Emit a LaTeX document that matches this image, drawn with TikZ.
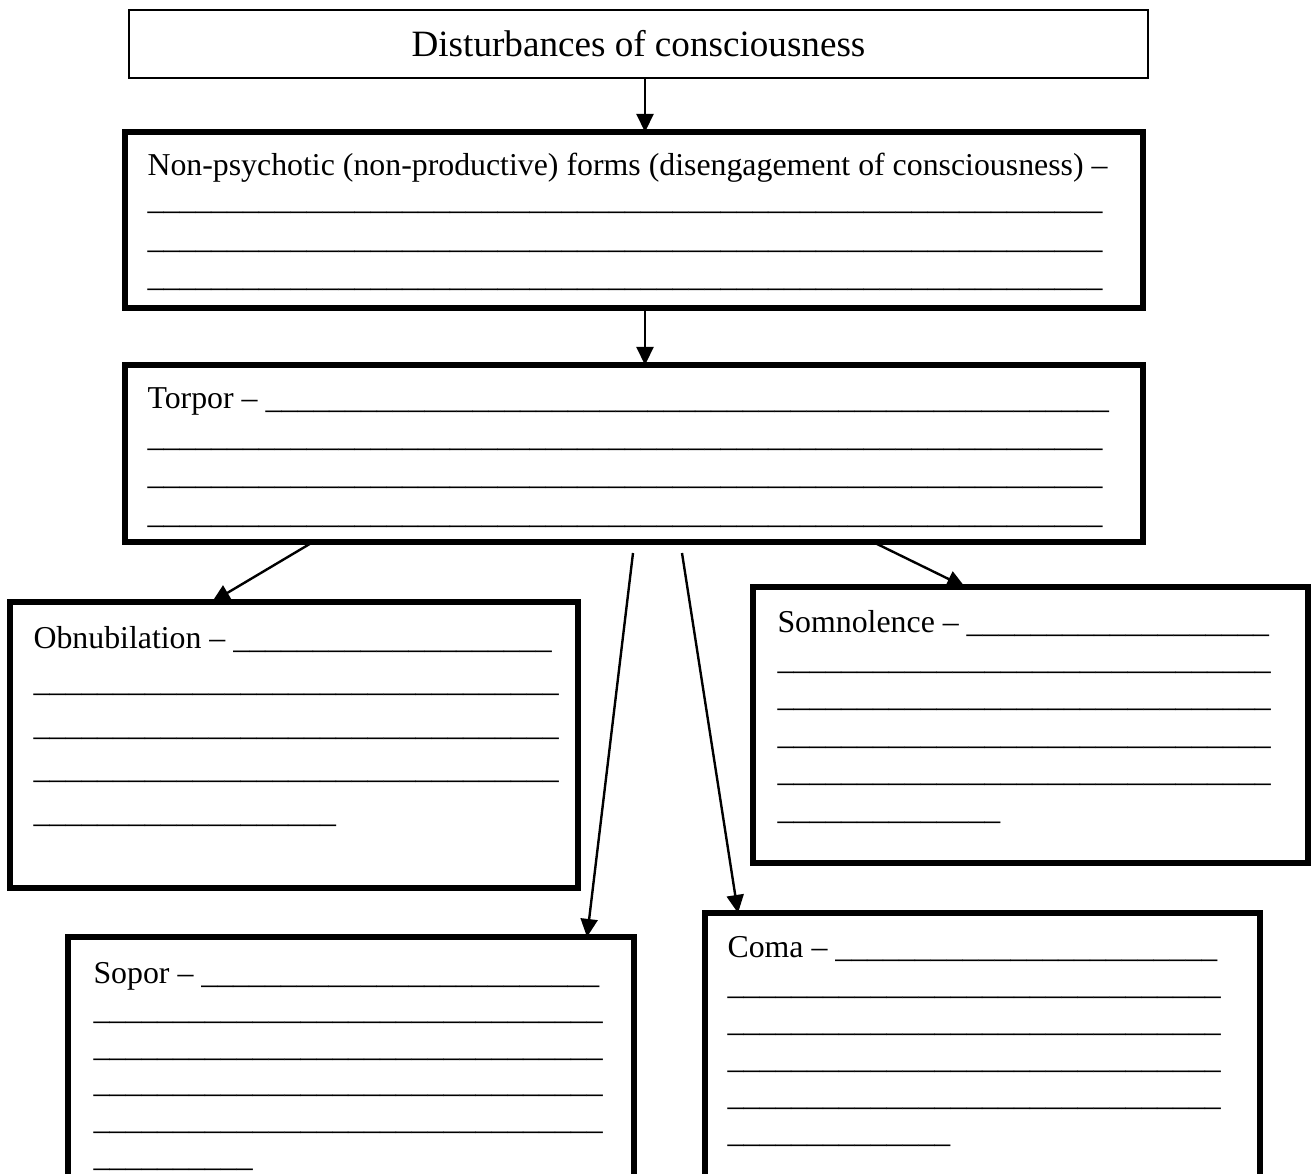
\documentclass[tikz,border=0pt]{standalone}
\usepackage{fontspec}
\setmainfont{Liberation Serif}
\usetikzlibrary{arrows.meta, positioning, calc}

\newcommand{\px}{0.377pt}
\newcommand{\fillin}[1]{\foreach \k in {1,...,#1}{\_}}
\newcommand{\topstrut}{\rule{0pt}{10pt}}

\begin{document}
\begin{tikzpicture}[x=0.377pt, y=-0.377pt,
  dims/.style 2 args={minimum width=#1*\px, minimum height=#2*\px},
  thinbox/.style={draw, line width=0.6pt, inner sep=0pt, outer sep=0pt, anchor=north west},
  thickbox/.style={draw, line width=1.9pt, inner sep=0pt, outer sep=0pt, anchor=north west},
  filltext/.style={anchor=north west, align=left, inner sep=0pt, font=\fontsize{12}{#1}\selectfont},
  arr/.style={-{Triangle[length=6.8pt, width=6.4pt]}, line width=0.9pt}]
  \clip (0,0) rectangle (1311,1173);

  % boxes
  \node[thinbox, dims={1019}{68}, font=\fontsize{14}{17}\selectfont] (title) at (129,10) {Disturbances of consciousness};
  \node[thickbox, dims={1018}{176}] (nonpsy) at (125,132) {};
  \node[thickbox, dims={1018}{177}] (torpor) at (125,365) {};
  \node[thickbox, dims={568}{286}] (obn) at (10,602) {};
  \node[thickbox, dims={555}{276}] (somn) at (753,587) {};
  \node[thickbox, dims={566}{300}] (sopor) at (68,937) {};
  \node[thickbox, dims={555}{300}] (coma) at (705,913) {};

  % texts to fill in
  \node[filltext=14.5pt] (nonpsytxt) at ($(nonpsy.north west)+(22,16)$)
    {\topstrut Non-psychotic (non-productive) forms (disengagement of consciousness) --\\[-1.5pt]
     \fillin{60}\\ \fillin{60}\\ \fillin{60}};
  \node[filltext=14.5pt] (torportxt) at ($(torpor.north west)+(22,16)$)
    {\topstrut Torpor -- \fillin{53}\\ \fillin{60}\\ \fillin{60}\\ \fillin{60}};
  \node[filltext=16.4pt] (obntxt) at ($(obn.north west)+(23,19)$)
    {\topstrut Obnubilation -- \fillin{20}\\ \fillin{33}\\ \fillin{33}\\ \fillin{33}\\ \fillin{19}};
  \node[filltext=14.1pt] (somntxt) at ($(somn.north west)+(24,18)$)
    {\topstrut Somnolence -- \fillin{19}\\ \fillin{31}\\ \fillin{31}\\ \fillin{31}\\ \fillin{31}\\ \fillin{14}};
  \node[filltext=13.8pt] (soportxt) at ($(sopor.north west)+(25,19)$)
    {\topstrut Sopor -- \fillin{25}\\ \fillin{32}\\ \fillin{32}\\ \fillin{32}\\ \fillin{32}\\ \fillin{10}};
  \node[filltext=14pt] (comatxt) at ($(coma.north west)+(22,17)$)
    {\topstrut Coma -- \fillin{24}\\ \fillin{31}\\ \fillin{31}\\ \fillin{31}\\ \fillin{31}\\ \fillin{14}};

  % arrows
  \coordinate (ax) at (645,0);
  \coordinate (lstart) at (633,553);
  \coordinate (rstart) at (682,553);
  \draw[arr] (title.south -| ax) -- (nonpsy.north -| ax);
  \draw[arr] (nonpsy.south -| ax) -- (torpor.north -| ax);
  \draw[arr] ($(torpor.south west)+(188,0)$) -- ($(obn.north west)+(202,0)$);
  \draw[arr] ($(torpor.south west)+(748,0)$) -- ($(somn.north west)+(212,0)$);
  \draw[arr] (lstart) -- ($(sopor.north west)+(519,0)$);
  \draw[arr] (rstart) -- ($(coma.north west)+(33,0)$);
\end{tikzpicture}
\end{document}
